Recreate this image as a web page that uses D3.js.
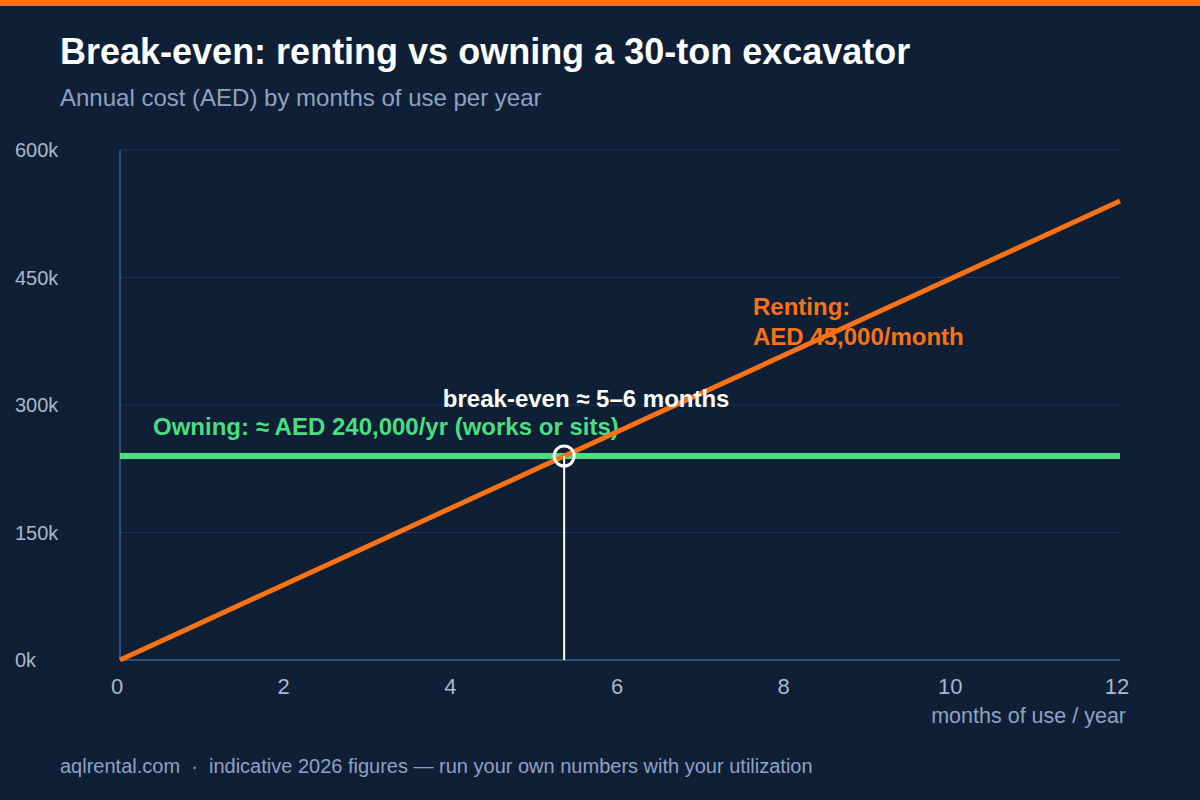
<!DOCTYPE html>
<html>
<head>
<meta charset="utf-8">
<script src="https://cdn.jsdelivr.net/npm/d3@7"></script>
<style>
  html, body { margin:0; padding:0; background:#0e1f36; }
  svg text { font-family:"Liberation Sans", Arimo, Arial, Helvetica, sans-serif; white-space:pre; }
</style>
</head>
<body>
<div class="Graph"></div>
<script>
// 데이터 (k AED)
const months = [0, 1, 2, 3, 4, 5, 6, 7, 8, 9, 10, 11, 12];
const rentCost = [0, 45, 90, 135, 180, 225, 270, 315, 360, 405, 450, 495, 540];
const ownCost = [240, 240, 240, 240, 240, 240, 240, 240, 240, 240, 240, 240, 240];
const xTicks = [0, 2, 4, 6, 8, 10, 12];
const yTicks = [0, 150, 300, 450, 600];
const breakEven = { month: 5.33, cost: 240 };

const W = 1200, H = 800;
const svg = d3.select(".Graph").append("svg")
    .attr("width", W).attr("height", H);

svg.append("rect").attr("width", W).attr("height", H).attr("fill", "#0e1f36");
svg.append("rect").attr("width", W).attr("height", 6).attr("fill", "#f97316");

//title
svg.append("text").attr("x", 60).attr("y", 64)
    .attr("fill", "#ffffff").attr("font-size", 36).attr("font-weight", "bold")
    .text("Break-even: renting vs owning a 30-ton excavator");
svg.append("text").attr("x", 60).attr("y", 106)
    .attr("fill", "#8ea3c0").attr("font-size", 24)
    .text("Annual cost (AED) by months of use per year");

let x = d3.scaleLinear().domain([0, 12]).range([120, 1120]);
let y = d3.scaleLinear().domain([0, 600]).range([660, 150]);

//grid
svg.append("g").selectAll("line").data(yTicks).enter().append("line")
    .attr("x1", x(0)).attr("x2", x(12))
    .attr("y1", d => y(d)).attr("y2", d => y(d))
    .attr("stroke", "#1b3455").attr("stroke-width", 1);

svg.append("g").selectAll("text").data(yTicks).enter().append("text")
    .attr("x", 15).attr("y", d => y(d)).attr("dy", "0.36em")
    .attr("fill", "#a9b8cc").attr("font-size", 20)
    .text(d => d + "k");

//axes
svg.append("line").attr("x1", x(0)).attr("x2", x(0)).attr("y1", y(600)).attr("y2", y(0))
    .attr("stroke", "#28507c").attr("stroke-width", 2);
svg.append("line").attr("x1", x(0)).attr("x2", x(12)).attr("y1", y(0)).attr("y2", y(0))
    .attr("stroke", "#28507c").attr("stroke-width", 2);

svg.append("g").selectAll("text").data(xTicks).enter().append("text")
    .attr("x", d => x(d) - 3).attr("y", 694)
    .attr("text-anchor", "middle")
    .attr("fill", "#a9b8cc").attr("font-size", 22)
    .text(d => d);
svg.append("text").attr("x", 1126).attr("y", 723).attr("text-anchor", "end")
    .attr("fill", "#8ea3c0").attr("font-size", 21.5)
    .text("months of use / year");

//owning line
const line = d3.line().x((d, i) => x(months[i])).y(d => y(d));
svg.append("path").datum(ownCost).attr("d", line)
    .attr("fill", "none").attr("stroke", "#4ade80").attr("stroke-width", 6);

//labels (under renting line)
svg.append("text").attr("x", 153).attr("y", 435)
    .attr("fill", "#4ade80").attr("font-size", 24).attr("font-weight", "bold")
    .text("Owning: ≈ AED 240,000/yr (works or sits)");
svg.append("text").attr("x", 753).attr("y", 315)
    .attr("fill", "#f97316").attr("font-size", 24).attr("font-weight", "bold")
    .text("Renting:");
svg.append("text").attr("x", 753).attr("y", 345)
    .attr("fill", "#f97316").attr("font-size", 24).attr("font-weight", "bold")
    .text("AED 45,000/month");

//renting line
svg.append("path").datum(rentCost).attr("d", line)
    .attr("fill", "none").attr("stroke", "#f97316").attr("stroke-width", 5);

//break-even marker
svg.append("line")
    .attr("x1", x(breakEven.month)).attr("x2", x(breakEven.month))
    .attr("y1", y(breakEven.cost)).attr("y2", y(0))
    .attr("stroke", "#ffffff").attr("stroke-width", 2);
svg.append("circle")
    .attr("cx", x(breakEven.month)).attr("cy", y(breakEven.cost)).attr("r", 10)
    .attr("fill", "none").attr("stroke", "#ffffff").attr("stroke-width", 3);
svg.append("text").attr("x", x(breakEven.month) + 22).attr("y", 407)
    .attr("text-anchor", "middle")
    .attr("fill", "#ffffff").attr("font-size", 24).attr("font-weight", "bold")
    .text("break-even ≈ 5–6 months");

//footer
svg.append("text").attr("x", 60).attr("y", 773)
    .attr("fill", "#8ea3c0").attr("font-size", 20)
    .text("aqlrental.com  ·  indicative 2026 figures — run your own numbers with your utilization");
</script>
</body>
</html>
